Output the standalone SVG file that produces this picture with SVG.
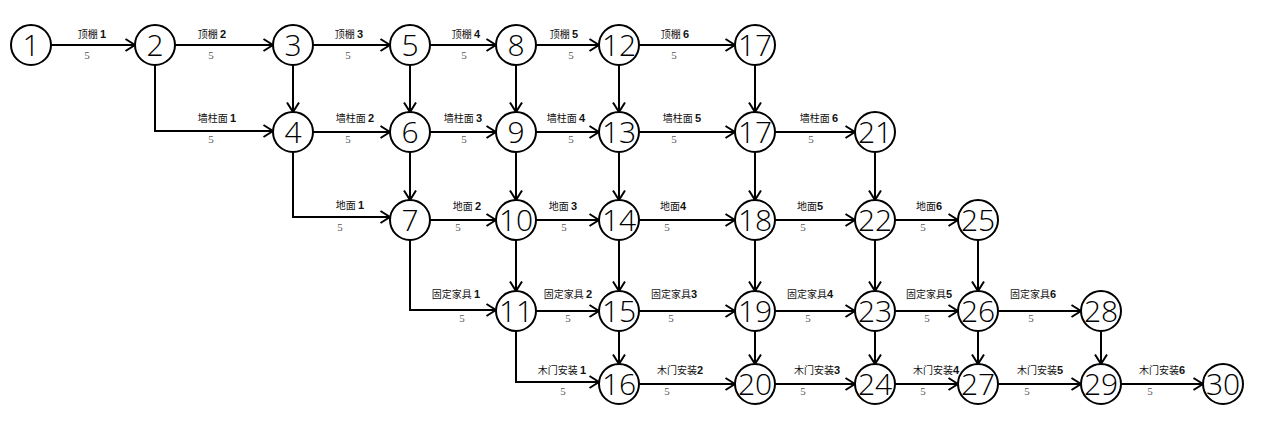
<svg xmlns="http://www.w3.org/2000/svg" width="1266" height="425" viewBox="0 0 1266 425">
<style>
.bg{fill:#fff}
.node circle{fill:#fff;stroke:#000;stroke-width:2}
.node text{font-family:"Open Sans","Liberation Sans",sans-serif;font-weight:300;font-size:30px;text-anchor:middle;fill:#000}
.e{fill:none;stroke:#000;stroke-width:2;marker-end:url(#arr)}
.lb{font-family:"Noto Sans CJK SC","Noto Sans",sans-serif;font-size:10px;text-anchor:middle;fill:#111}
.lb tspan{font-family:"Liberation Sans",sans-serif;font-weight:bold;font-size:11px}
.d{font-family:"Liberation Serif",serif;font-size:11px;text-anchor:middle;fill:#555}
</style>
<defs>
<marker id="arr" viewBox="0 0 12 14" refX="11" refY="7" markerWidth="12" markerHeight="14" markerUnits="userSpaceOnUse" orient="auto">
<path d="M1.5,1 L11,7 L1.5,13" fill="none" stroke="#000" stroke-width="2"/>
</marker>
</defs>
<rect class="bg" x="0" y="0" width="1266" height="425"/>
<g id="connectors">
<g><line class="e" x1="51" y1="45" x2="135" y2="45"/><text class="lb" x="92" y="38">顶棚 <tspan>1</tspan></text><text class="d" x="87" y="59">5</text></g>
<g><line class="e" x1="175" y1="45" x2="273" y2="45"/><text class="lb" x="212" y="38">顶棚 <tspan>2</tspan></text><text class="d" x="211" y="59">5</text></g>
<g><line class="e" x1="313" y1="45" x2="390" y2="45"/><text class="lb" x="349" y="38">顶棚 <tspan>3</tspan></text><text class="d" x="348" y="59">5</text></g>
<g><line class="e" x1="430" y1="45" x2="496" y2="45"/><text class="lb" x="466" y="38">顶棚 <tspan>4</tspan></text><text class="d" x="464" y="59">5</text></g>
<g><line class="e" x1="536" y1="45" x2="599" y2="45"/><text class="lb" x="564" y="38">顶棚 <tspan>5</tspan></text><text class="d" x="571" y="59">5</text></g>
<g><line class="e" x1="639" y1="45" x2="735" y2="45"/><text class="lb" x="675" y="38">顶棚 <tspan>6</tspan></text><text class="d" x="674" y="59">5</text></g>
<g><polyline class="e" points="155,65 155,131 273,131"/><text class="lb" x="217" y="122">墙柱面 <tspan>1</tspan></text><text class="d" x="211" y="143">5</text></g>
<g><line class="e" x1="313" y1="132" x2="390" y2="132"/><text class="lb" x="355" y="122">墙柱面 <tspan>2</tspan></text><text class="d" x="348" y="143">5</text></g>
<g><line class="e" x1="430" y1="132" x2="496" y2="132"/><text class="lb" x="463" y="122">墙柱面 <tspan>3</tspan></text><text class="d" x="464" y="143">5</text></g>
<g><line class="e" x1="536" y1="132" x2="599" y2="132"/><text class="lb" x="566" y="122">墙柱面 <tspan>4</tspan></text><text class="d" x="571" y="143">5</text></g>
<g><line class="e" x1="639" y1="132" x2="735" y2="132"/><text class="lb" x="682" y="122">墙柱面 <tspan>5</tspan></text><text class="d" x="674" y="143">5</text></g>
<g><line class="e" x1="775" y1="132" x2="855" y2="132"/><text class="lb" x="819" y="122">墙柱面 <tspan>6</tspan></text><text class="d" x="811" y="143">5</text></g>
<g><polyline class="e" points="293,152 293,217 390,217"/><text class="lb" x="350" y="209">地面 <tspan>1</tspan></text><text class="d" x="340" y="231">5</text></g>
<g><line class="e" x1="430" y1="220" x2="496" y2="220"/><text class="lb" x="467" y="210">地面 <tspan>2</tspan></text><text class="d" x="458" y="231">5</text></g>
<g><line class="e" x1="536" y1="220" x2="599" y2="220"/><text class="lb" x="563" y="210">地面 <tspan>3</tspan></text><text class="d" x="564" y="231">5</text></g>
<g><line class="e" x1="639" y1="220" x2="735" y2="220"/><text class="lb" x="673" y="210">地面<tspan>4</tspan></text><text class="d" x="667" y="231">5</text></g>
<g><line class="e" x1="775" y1="220" x2="855" y2="220"/><text class="lb" x="810" y="210">地面<tspan>5</tspan></text><text class="d" x="803" y="231">5</text></g>
<g><line class="e" x1="895" y1="220" x2="958" y2="220"/><text class="lb" x="929" y="210">地面<tspan>6</tspan></text><text class="d" x="923" y="231">5</text></g>
<g><polyline class="e" points="410,240 410,310 496,310"/><text class="lb" x="456" y="298">固定家具 <tspan>1</tspan></text><text class="d" x="462" y="322">5</text></g>
<g><line class="e" x1="536" y1="311" x2="599" y2="311"/><text class="lb" x="568" y="298">固定家具 <tspan>2</tspan></text><text class="d" x="568" y="322">5</text></g>
<g><line class="e" x1="639" y1="311" x2="735" y2="311"/><text class="lb" x="674" y="298">固定家具<tspan>3</tspan></text><text class="d" x="671" y="322">5</text></g>
<g><line class="e" x1="775" y1="311" x2="855" y2="311"/><text class="lb" x="810" y="298">固定家具<tspan>4</tspan></text><text class="d" x="808" y="322">5</text></g>
<g><line class="e" x1="895" y1="311" x2="958" y2="311"/><text class="lb" x="929" y="298">固定家具<tspan>5</tspan></text><text class="d" x="927" y="322">5</text></g>
<g><line class="e" x1="998" y1="311" x2="1081" y2="311"/><text class="lb" x="1033" y="298">固定家具<tspan>6</tspan></text><text class="d" x="1031" y="322">5</text></g>
<g><polyline class="e" points="516,331 516,382 599,382"/><text class="lb" x="562" y="374">木门安装 <tspan>1</tspan></text><text class="d" x="563" y="395">5</text></g>
<g><line class="e" x1="639" y1="384" x2="735" y2="384"/><text class="lb" x="680" y="374">木门安装<tspan>2</tspan></text><text class="d" x="667" y="395">5</text></g>
<g><line class="e" x1="775" y1="384" x2="855" y2="384"/><text class="lb" x="817" y="374">木门安装<tspan>3</tspan></text><text class="d" x="803" y="395">5</text></g>
<g><line class="e" x1="895" y1="384" x2="958" y2="384"/><text class="lb" x="936" y="374">木门安装<tspan>4</tspan></text><text class="d" x="923" y="395">5</text></g>
<g><line class="e" x1="998" y1="384" x2="1081" y2="384"/><text class="lb" x="1040" y="374">木门安装<tspan>5</tspan></text><text class="d" x="1027" y="395">5</text></g>
<g><line class="e" x1="1121" y1="384" x2="1203" y2="384"/><text class="lb" x="1162" y="374">木门安装<tspan>6</tspan></text><text class="d" x="1150" y="395">5</text></g>
<line class="e" x1="293" y1="65" x2="293" y2="112"/>
<line class="e" x1="410" y1="65" x2="410" y2="112"/>
<line class="e" x1="516" y1="65" x2="516" y2="112"/>
<line class="e" x1="619" y1="65" x2="619" y2="112"/>
<line class="e" x1="755" y1="65" x2="755" y2="112"/>
<line class="e" x1="410" y1="152" x2="410" y2="200"/>
<line class="e" x1="516" y1="152" x2="516" y2="200"/>
<line class="e" x1="619" y1="152" x2="619" y2="200"/>
<line class="e" x1="755" y1="152" x2="755" y2="200"/>
<line class="e" x1="875" y1="152" x2="875" y2="200"/>
<line class="e" x1="516" y1="240" x2="516" y2="291"/>
<line class="e" x1="619" y1="240" x2="619" y2="291"/>
<line class="e" x1="755" y1="240" x2="755" y2="291"/>
<line class="e" x1="875" y1="240" x2="875" y2="291"/>
<line class="e" x1="978" y1="240" x2="978" y2="291"/>
<line class="e" x1="619" y1="331" x2="619" y2="364"/>
<line class="e" x1="755" y1="331" x2="755" y2="364"/>
<line class="e" x1="875" y1="331" x2="875" y2="364"/>
<line class="e" x1="978" y1="331" x2="978" y2="364"/>
<line class="e" x1="1101" y1="331" x2="1101" y2="364"/>
</g>
<g id="n1" class="node"><circle cx="31" cy="45" r="20"/><text x="31" y="56">1</text></g>
<g id="n2" class="node"><circle cx="155" cy="45" r="20"/><text x="155" y="56">2</text></g>
<g id="n3" class="node"><circle cx="293" cy="45" r="20"/><text x="293" y="56">3</text></g>
<g id="n5" class="node"><circle cx="410" cy="45" r="20"/><text x="410" y="56">5</text></g>
<g id="n8" class="node"><circle cx="516" cy="45" r="20"/><text x="516" y="56">8</text></g>
<g id="n12" class="node"><circle cx="619" cy="45" r="20"/><text x="619" y="56">12</text></g>
<g id="n17a" class="node"><circle cx="755" cy="45" r="20"/><text x="755" y="56">17</text></g>
<g id="n4" class="node"><circle cx="293" cy="132" r="20"/><text x="293" y="143">4</text></g>
<g id="n6" class="node"><circle cx="410" cy="132" r="20"/><text x="410" y="143">6</text></g>
<g id="n9" class="node"><circle cx="516" cy="132" r="20"/><text x="516" y="143">9</text></g>
<g id="n13" class="node"><circle cx="619" cy="132" r="20"/><text x="619" y="143">13</text></g>
<g id="n17b" class="node"><circle cx="755" cy="132" r="20"/><text x="755" y="143">17</text></g>
<g id="n21" class="node"><circle cx="875" cy="132" r="20"/><text x="875" y="143">21</text></g>
<g id="n7" class="node"><circle cx="410" cy="220" r="20"/><text x="410" y="231">7</text></g>
<g id="n10" class="node"><circle cx="516" cy="220" r="20"/><text x="516" y="231">10</text></g>
<g id="n14" class="node"><circle cx="619" cy="220" r="20"/><text x="619" y="231">14</text></g>
<g id="n18" class="node"><circle cx="755" cy="220" r="20"/><text x="755" y="231">18</text></g>
<g id="n22" class="node"><circle cx="875" cy="220" r="20"/><text x="875" y="231">22</text></g>
<g id="n25" class="node"><circle cx="978" cy="220" r="20"/><text x="978" y="231">25</text></g>
<g id="n11" class="node"><circle cx="516" cy="311" r="20"/><text x="516" y="322">11</text></g>
<g id="n15" class="node"><circle cx="619" cy="311" r="20"/><text x="619" y="322">15</text></g>
<g id="n19" class="node"><circle cx="755" cy="311" r="20"/><text x="755" y="322">19</text></g>
<g id="n23" class="node"><circle cx="875" cy="311" r="20"/><text x="875" y="322">23</text></g>
<g id="n26" class="node"><circle cx="978" cy="311" r="20"/><text x="978" y="322">26</text></g>
<g id="n28" class="node"><circle cx="1101" cy="311" r="20"/><text x="1101" y="322">28</text></g>
<g id="n16" class="node"><circle cx="619" cy="384" r="20"/><text x="619" y="395">16</text></g>
<g id="n20" class="node"><circle cx="755" cy="384" r="20"/><text x="755" y="395">20</text></g>
<g id="n24" class="node"><circle cx="875" cy="384" r="20"/><text x="875" y="395">24</text></g>
<g id="n27" class="node"><circle cx="978" cy="384" r="20"/><text x="978" y="395">27</text></g>
<g id="n29" class="node"><circle cx="1101" cy="384" r="20"/><text x="1101" y="395">29</text></g>
<g id="n30" class="node"><circle cx="1223" cy="384" r="20"/><text x="1223" y="395">30</text></g>
</svg>
